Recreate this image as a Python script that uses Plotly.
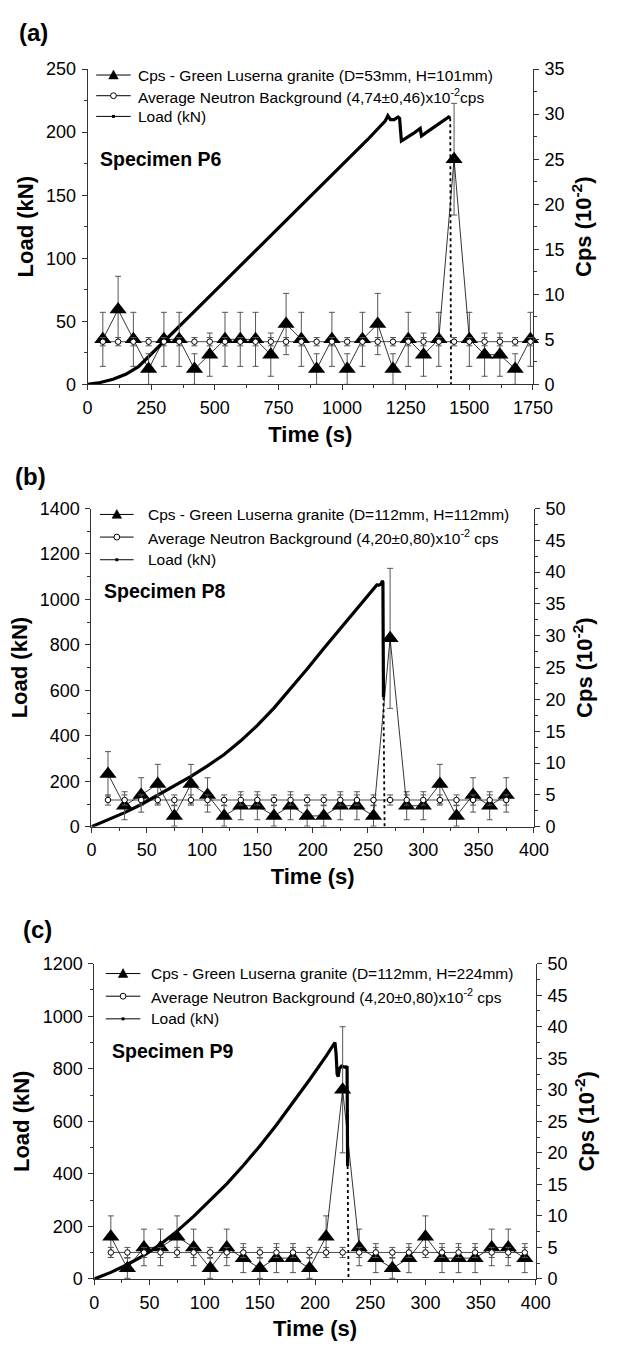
import plotly.graph_objects as go

FONT = "Liberation Sans, Arial, sans-serif"

# ---------------- Panel (a) : Specimen P6 ----------------
a_t = [60, 120, 180, 240, 300, 360, 420, 480, 540, 600, 660, 720, 780, 840, 900,
       960, 1020, 1080, 1140, 1200, 1260, 1320, 1380, 1440, 1500, 1560, 1620, 1680, 1740]
a_cps = [5.0, 8.3, 5.0, 1.7, 5.0, 5.0, 1.7, 3.3, 5.0, 5.0, 5.0, 3.3, 6.7, 5.0, 1.7,
         5.0, 1.7, 5.0, 6.7, 1.7, 5.0, 3.3, 5.0, 25.0, 5.0, 3.3, 3.3, 1.7, 5.0]
a_cps_err = [3.0, 3.7, 3.0, 1.7, 3.0, 3.0, 1.7, 2.4, 3.0, 3.0, 3.0, 2.4, 3.4, 3.0, 1.7,
             3.0, 1.7, 3.0, 3.4, 1.7, 3.0, 2.4, 3.0, 6.2, 3.0, 2.4, 2.4, 1.7, 3.0]
a_bg = [4.74, 4.74, 4.74, 4.74, 4.74, 4.74, 4.74, 4.74, 4.74, 4.74, 4.74, 4.74, 4.74, 4.74, 4.74,
        4.74, 4.74, 4.74, 4.74, 4.74, 4.74, 4.74, 4.74, 4.74, 4.74, 4.74, 4.74, 4.74, 4.74]
a_bg_err = [0.46, 0.46, 0.46, 0.46, 0.46, 0.46, 0.46, 0.46, 0.46, 0.46, 0.46, 0.46, 0.46, 0.46, 0.46,
            0.46, 0.46, 0.46, 0.46, 0.46, 0.46, 0.46, 0.46, 0.46, 0.46, 0.46, 0.46, 0.46, 0.46]
a_load_t = [0, 50, 100, 150, 200, 241, 300, 400, 500, 600, 700, 800, 900, 1000, 1100, 1170,
            1180, 1190, 1205, 1220, 1226, 1233, 1250, 1280, 1307, 1312, 1340, 1370, 1400,
            1419, 1425]
a_load = [0, 1.5, 4, 8, 14, 22, 34, 54, 74, 94, 114, 134, 154, 174, 194, 209,
          213, 210, 210, 212, 211, 193, 195, 199, 203, 197, 201, 205, 209,
          212, 211]
a_drop_t = [1425, 1427, 1427, 1428]
a_drop = [211, 150, 68, 0]

# ---------------- Panel (b) : Specimen P8 ----------------
b_t = [15, 30, 45, 60, 75, 90, 105, 120, 135, 150, 165, 180, 195, 210, 225, 240, 255,
       270, 285, 300, 315, 330, 345, 360, 375]
b_cps = [8.3, 3.3, 5.0, 6.7, 1.7, 6.7, 5.0, 1.7, 3.3, 3.3, 1.7, 3.3, 1.7, 1.7, 3.3, 3.3, 1.7,
         29.6, 3.3, 3.3, 6.7, 1.7, 5.0, 3.3, 5.0]
b_cps_err = [3.5, 2.2, 2.7, 3.1, 1.6, 3.1, 2.7, 1.6, 2.2, 2.2, 1.6, 2.2, 1.6, 1.6, 2.2, 2.2, 1.6,
             11.0, 2.2, 2.2, 3.1, 1.6, 2.7, 2.2, 2.7]
b_bg = [4.2, 4.2, 4.2, 4.2, 4.2, 4.2, 4.2, 4.2, 4.2, 4.2, 4.2, 4.2, 4.2, 4.2, 4.2, 4.2, 4.2,
        4.2, 4.2, 4.2, 4.2, 4.2, 4.2, 4.2, 4.2]
b_bg_err = [0.8, 0.8, 0.8, 0.8, 0.8, 0.8, 0.8, 0.8, 0.8, 0.8, 0.8, 0.8, 0.8, 0.8, 0.8, 0.8, 0.8,
            0.8, 0.8, 0.8, 0.8, 0.8, 0.8, 0.8, 0.8]
b_load_t = [0, 15, 30, 45, 60, 75, 90, 105, 120, 135, 150, 165, 180, 195, 210, 225, 240,
            250, 256, 258, 260, 262, 263, 263.5, 264]
b_load = [0, 30, 62, 98, 138, 180, 222, 268, 318, 378, 446, 522, 606, 694, 784, 872, 958,
          1016, 1050, 1064, 1063, 1068, 1082, 1075, 570]
b_drop_t = [264, 264.6, 265]
b_drop = [570, 280, 0]

# ---------------- Panel (c) : Specimen P9 ----------------
c_t = [15, 30, 45, 60, 75, 90, 105, 120, 135, 150, 165, 180, 195, 210, 225, 240, 255,
       270, 285, 300, 315, 330, 345, 360, 375, 390]
c_cps = [6.7, 1.7, 5.0, 5.0, 6.7, 5.0, 1.7, 5.0, 3.3, 1.7, 3.3, 3.3, 1.7, 6.7, 30.0, 5.0, 3.3,
         1.7, 3.3, 6.7, 3.3, 3.3, 3.3, 5.0, 5.0, 3.3]
c_cps_err = [3.3, 1.6, 2.9, 2.9, 3.3, 2.9, 1.6, 2.9, 2.3, 1.6, 2.3, 2.3, 1.6, 3.3, 10.0, 2.9, 2.3,
             1.6, 2.3, 3.3, 2.3, 2.3, 2.3, 2.9, 2.9, 2.3]
c_bg = [4.2, 4.2, 4.2, 4.2, 4.2, 4.2, 4.2, 4.2, 4.2, 4.2, 4.2, 4.2, 4.2, 4.2, 4.2, 4.2, 4.2,
        4.2, 4.2, 4.2, 4.2, 4.2, 4.2, 4.2, 4.2, 4.2]
c_bg_err = [0.8, 0.8, 0.8, 0.8, 0.8, 0.8, 0.8, 0.8, 0.8, 0.8, 0.8, 0.8, 0.8, 0.8, 0.8, 0.8, 0.8,
            0.8, 0.8, 0.8, 0.8, 0.8, 0.8, 0.8, 0.8, 0.8]
c_load_t = [0, 15, 30, 45, 60, 75, 90, 105, 120, 135, 150, 165, 180, 195, 210, 218,
            219, 220, 221, 222, 224, 228, 229, 229.5]
c_load = [0, 25, 55, 90, 132, 182, 238, 298, 362, 432, 506, 586, 670, 758, 848, 900,
          860, 780, 770, 800, 810, 805, 810, 430]
c_drop_t = [229.5, 230, 230.3]
c_drop = [430, 200, 0]

legend_a = ["Cps - Green Luserna granite (D=53mm, H=101mm)",
            "Average Neutron Background (4,74±0,46)x10<sup>-2</sup>cps",
            "Load (kN)"]
legend_b = ["Cps - Green Luserna granite (D=112mm, H=112mm)",
            "Average Neutron Background (4,20±0,80)x10<sup>-2</sup> cps",
            "Load (kN)"]
legend_c = ["Cps - Green Luserna granite (D=112mm, H=224mm)",
            "Average Neutron Background (4,20±0,80)x10<sup>-2</sup> cps",
            "Load (kN)"]

W, H = 624, 1352


def PX(p):
    return p / W


def PY(p):
    return 1 - p / H


panels = [
    dict(t=a_t, cps=a_cps, err=a_cps_err, bg=a_bg, bgerr=a_bg_err, lt=a_load_t, l=a_load,
         dt=a_drop_t, d=a_drop, leg=legend_a, xr=[0, 1750], xd=250, yl=[0, 250], yd=50,
         yr=[0, 35], x0=86, x1=550, top=60, bot=380, lab="(a)", spec="Specimen P6",
         lab_xy=(12, 23), spec_xy=(97, 151),
         leg_line=(95, 131), leg_text=136, leg_rows=(66, 87, 108)),
    dict(t=b_t, cps=b_cps, err=b_cps_err, bg=b_bg, bgerr=b_bg_err, lt=b_load_t, l=b_load,
         dt=b_drop_t, d=b_drop, leg=legend_b, xr=[0, 400], xd=50, yl=[0, 1400], yd=200,
         yr=[0, 50], x0=90, x1=551, top=506, bot=829, lab="(b)", spec="Specimen P8",
         lab_xy=(8, 473), spec_xy=(101, 590),
         leg_line=(99, 134), leg_text=147, leg_rows=(512, 535, 558)),
    dict(t=c_t, cps=c_cps, err=c_cps_err, bg=c_bg, bgerr=c_bg_err, lt=c_load_t, l=c_load,
         dt=c_drop_t, d=c_drop, leg=legend_c, xr=[0, 400], xd=50, yl=[0, 1200], yd=200,
         yr=[0, 50], x0=93, x1=553, top=968, bot=1288, lab="(c)", spec="Specimen P9",
         lab_xy=(17, 933), spec_xy=(109, 1057),
         leg_line=(105, 141), leg_text=150, leg_rows=(978, 1001, 1024)),
]

fig = go.Figure()
layout = dict(width=W, height=H, margin=dict(l=0, r=0, t=0, b=0),
              paper_bgcolor="white", plot_bgcolor="white",
              font=dict(family=FONT, color="black"), showlegend=False)
annotations = []
shapes = []
AX = "#333333"
ERR = "#555555"
TICKF = 18
TITLEF = 22
LEGF = 15.5

for i, p in enumerate(panels):
    n = i + 1
    xs = "x" if n == 1 else f"x{n}"
    yl = "y" if n == 1 else f"y{2 * n - 1}"
    yr = f"y{2 * n}"

    fig.add_trace(go.Scatter(
        x=p["t"], y=p["cps"], xaxis=xs, yaxis=yr, mode="lines+markers",
        line=dict(color="black", width=0.8),
        marker=dict(symbol="triangle-up", size=15, color="black"),
        error_y=dict(type="data", array=p["err"], visible=True, color=ERR, thickness=1, width=3),
        cliponaxis=False))
    fig.add_trace(go.Scatter(
        x=p["t"], y=p["bg"], xaxis=xs, yaxis=yr, mode="lines+markers",
        line=dict(color="black", width=0.7),
        marker=dict(symbol="circle", size=5.5, color="white", line=dict(color="black", width=1)),
        error_y=dict(type="data", array=p["bgerr"], visible=True, color=ERR, thickness=1, width=3)))
    fig.add_trace(go.Scatter(
        x=p["lt"], y=p["l"], xaxis=xs, yaxis=yl, mode="lines",
        line=dict(color="black", width=3.2)))
    fig.add_trace(go.Scatter(
        x=p["dt"], y=p["d"], xaxis=xs, yaxis=yl, mode="lines",
        line=dict(color="black", width=1.8, dash="dot")))

    xdom = [PX(p["x0"]), PX(p["x1"])]
    ydom = [PY(p["bot"]), PY(p["top"])]
    common = dict(showline=True, linecolor=AX, linewidth=1, showgrid=False, zeroline=False,
                  ticks="outside", ticklen=5, tickwidth=1, tickcolor=AX, ticklabelstandoff=2,
                  tickfont=dict(size=TICKF, family=FONT, color="black"))
    xkey = "xaxis" if n == 1 else f"xaxis{n}"
    ylkey = "yaxis" if n == 1 else f"yaxis{2 * n - 1}"
    yrkey = f"yaxis{2 * n}"
    layout[xkey] = dict(domain=xdom, anchor=yl, range=p["xr"], dtick=p["xd"], tick0=0,
                        minor=dict(dtick=p["xd"] / 2, ticks="outside", ticklen=3, tickcolor=AX),
                        title=dict(text="<b>Time (s)</b>", font=dict(size=TITLEF, family=FONT),
                                   standoff=9),
                        **common)
    layout[ylkey] = dict(domain=ydom, anchor=xs, range=p["yl"], dtick=p["yd"], tick0=0,
                         minor=dict(dtick=p["yd"] / 2, ticks="outside", ticklen=3, tickcolor=AX),
                         title=dict(text="<b>Load (kN)</b>", font=dict(size=TITLEF, family=FONT),
                                    standoff=6),
                         **common)
    layout[yrkey] = dict(overlaying=yl, side="right", anchor=xs, range=p["yr"], dtick=5, tick0=0,
                         minor=dict(dtick=2.5, ticks="outside", ticklen=3, tickcolor=AX),
                         title=dict(text="<b>Cps (10<sup>-2</sup>)</b>",
                                    font=dict(size=TITLEF, family=FONT), standoff=12),
                         **common)

    # manual legend
    lx0, lx1 = p["leg_line"]
    mx = (lx0 + lx1) / 2
    for k, ry in enumerate(p["leg_rows"]):
        shapes.append(dict(type="line", xref="paper", yref="paper",
                           x0=PX(lx0), x1=PX(lx1), y0=PY(ry), y1=PY(ry),
                           line=dict(color="black", width=1)))
        if k == 0:
            path = (f"M {PX(mx)} {PY(ry - 5)} L {PX(mx - 5)} {PY(ry + 4)} "
                    f"L {PX(mx + 5)} {PY(ry + 4)} Z")
            shapes.append(dict(type="path", xref="paper", yref="paper", path=path,
                               fillcolor="black", line=dict(color="black", width=0.5)))
        elif k == 1:
            shapes.append(dict(type="circle", xref="paper", yref="paper",
                               x0=PX(mx - 3), x1=PX(mx + 3), y0=PY(ry + 3), y1=PY(ry - 3),
                               fillcolor="white", line=dict(color="black", width=1)))
        else:
            shapes.append(dict(type="rect", xref="paper", yref="paper",
                               x0=PX(mx - 1.5), x1=PX(mx + 1.5), y0=PY(ry + 1.5), y1=PY(ry - 1.5),
                               fillcolor="black", line=dict(color="black", width=0)))
        annotations.append(dict(text=p["leg"][k], x=PX(p["leg_text"]), y=PY(ry),
                                xref="paper", yref="paper", xanchor="left", yanchor="middle",
                                showarrow=False, font=dict(size=LEGF, family=FONT)))

    annotations.append(dict(text=f"<b>{p['lab']}</b>", x=PX(p["lab_xy"][0]), y=PY(p["lab_xy"][1]),
                            xref="paper", yref="paper", xanchor="left", yanchor="middle",
                            showarrow=False, font=dict(size=24, family=FONT)))
    annotations.append(dict(text=f"<b>{p['spec']}</b>", x=PX(p["spec_xy"][0]), y=PY(p["spec_xy"][1]),
                            xref="paper", yref="paper", xanchor="left", yanchor="middle",
                            showarrow=False, font=dict(size=19.5, family=FONT)))

layout["annotations"] = annotations
layout["shapes"] = shapes
fig.update_layout(**layout)
fig.write_html("out.html")
